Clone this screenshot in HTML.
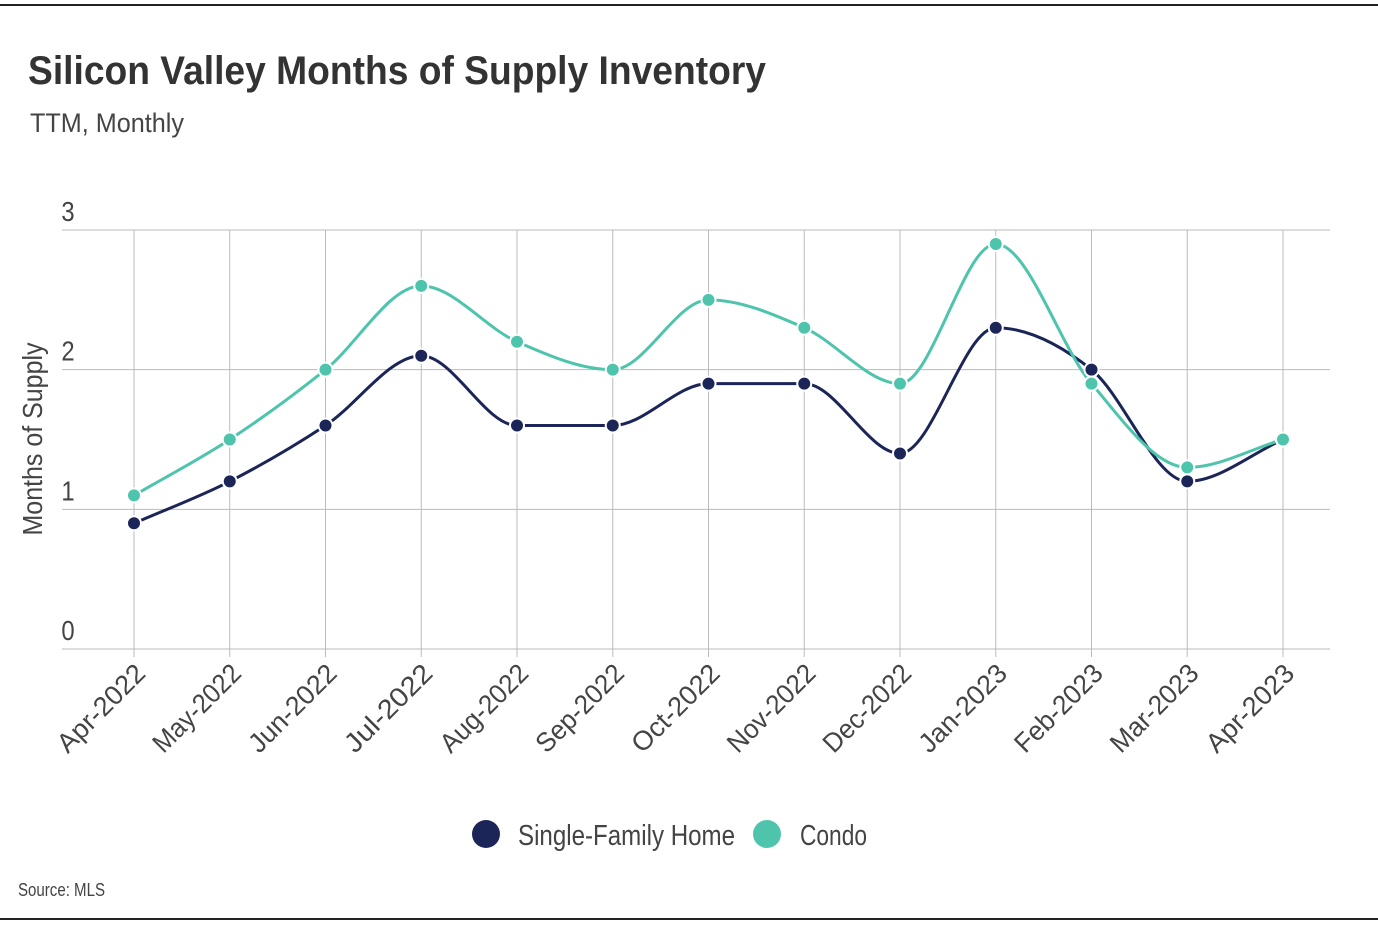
<!DOCTYPE html>
<html><head><meta charset="utf-8">
<style>
html,body{margin:0;padding:0;background:#fff;}
body{width:1378px;height:926px;position:relative;overflow:hidden;font-family:"Liberation Sans",sans-serif;}
svg text{font-family:"Liberation Sans",sans-serif;}
</style></head>
<body>
<svg id="chart" width="1378" height="926">
  <line x1="0" y1="5" x2="1378" y2="5" stroke="#222" stroke-width="2"/>
  <line x1="0" y1="919" x2="1378" y2="919" stroke="#222" stroke-width="2"/>
  <text x="28" y="84" font-size="40" font-weight="bold" fill="#333" textLength="738" lengthAdjust="spacingAndGlyphs">Silicon Valley Months of Supply Inventory</text>
  <text x="30" y="132" font-size="27" fill="#444" textLength="154" lengthAdjust="spacingAndGlyphs">TTM, Monthly</text>
  <text transform="translate(42,439) rotate(-90)" text-anchor="middle" font-size="28" fill="#444" textLength="193" lengthAdjust="spacingAndGlyphs">Months of Supply</text>
  <g id="grid"></g>
  <g id="series"></g>
  <g id="xlabels"></g>
  <circle cx="486" cy="834" r="14" fill="#1b2557"/>
  <text x="518" y="845" font-size="29" fill="#444" textLength="217" lengthAdjust="spacingAndGlyphs">Single-Family Home</text>
  <circle cx="767" cy="834" r="14" fill="#4fc4ad"/>
  <text x="800" y="845" font-size="29" fill="#444" textLength="67" lengthAdjust="spacingAndGlyphs">Condo</text>
  <text x="18" y="896" font-size="18" fill="#444" textLength="87" lengthAdjust="spacingAndGlyphs">Source:  MLS</text>
</svg>
<script>
const categories=["Apr-2022","May-2022","Jun-2022","Jul-2022","Aug-2022","Sep-2022","Oct-2022","Nov-2022","Dec-2022","Jan-2023","Feb-2023","Mar-2023","Apr-2023"];
const sfhValues=[0.9,1.2,1.6,2.1,1.6,1.6,1.9,1.9,1.4,2.3,2.0,1.2,1.5];
const condoValues=[1.1,1.5,2.0,2.6,2.2,2.0,2.5,2.3,1.9,2.9,1.9,1.3,1.5];
const yTicks=[0,1,2,3];
const NS="http://www.w3.org/2000/svg";
const x0=62,x1=1330,yTop=230,yBot=649,yMax=3;
function xS(i){return 134+i*((1283-134)/(categories.length-1));}
function yS(v){return yBot-(v/yMax)*(yBot-yTop);}
function mk(tag,attrs,parent){const e=document.createElementNS(NS,tag);for(const k in attrs)e.setAttribute(k,attrs[k]);parent.appendChild(e);return e;}
const grid=document.getElementById('grid');
yTicks.forEach(t=>{
  const l=mk('line',{x1:x0,x2:x1,y1:yS(t),y2:yS(t),stroke:'#bbb','stroke-width':1},grid);
  
  
  const tx=mk('text',{x:68,y:yS(t)-9,'font-size':28,fill:'#444','text-anchor':'middle',transform:`translate(68,0) scale(0.85,1) translate(-68,0)`},grid);
  tx.textContent=t;
  
  
});
const xl=document.getElementById('xlabels');
categories.forEach((c,i)=>{
  const l=mk('line',{x1:xS(i),x2:xS(i),y1:yTop,y2:yBot+8,stroke:'#bbb','stroke-width':1},grid);
  
  
  const t=mk('text',{transform:`translate(${xS(i)+13},${yBot+26}) rotate(-45)`,'text-anchor':'end','font-size':27,fill:'#444',textLength:112,lengthAdjust:'spacingAndGlyphs'},xl);
  t.textContent=c;
  
  
});
function monotonePath(pts){
  const n=pts.length,d=[],m=[];
  for(let i=0;i<n-1;i++)d.push((pts[i+1][1]-pts[i][1])/(pts[i+1][0]-pts[i][0]));
  m[0]=d[0];m[n-1]=d[n-2];
  for(let i=1;i<n-1;i++){m[i]=(d[i-1]*d[i]<=0)?0:(d[i-1]+d[i])/2;}
  for(let i=0;i<n-1;i++){
    if(d[i]===0){m[i]=0;m[i+1]=0;continue;}
    const a=m[i]/d[i],b=m[i+1]/d[i],s=a*a+b*b;
    if(s>9){const t=3/Math.sqrt(s);m[i]=t*a*d[i];m[i+1]=t*b*d[i];}
  }
  let p=`M${pts[0][0]},${pts[0][1]}`;
  for(let i=0;i<n-1;i++){
    const h=(pts[i+1][0]-pts[i][0])/3;
    p+=` C${pts[i][0]+h},${pts[i][1]+m[i]*h} ${pts[i+1][0]-h},${pts[i+1][1]-m[i+1]*h} ${pts[i+1][0]},${pts[i+1][1]}`;
  }
  return p;
}
const sg=document.getElementById('series');
function drawSeries(vals,color,name){
  const pts=vals.map((v,i)=>[xS(i),yS(v)]);
  const p=mk('path',{d:monotonePath(pts),fill:'none',stroke:color,'stroke-width':3},sg);
  
  
  return pts;
}
const sp=drawSeries(sfhValues,'#1b2557','sfh');
const cp=drawSeries(condoValues,'#4fc4ad','condo');
function drawPts(pts,color,name){
  pts.forEach(q=>{
    const c=mk('circle',{cx:q[0],cy:q[1],r:7,fill:color,stroke:'#fff','stroke-width':2},sg);
    
    
  });
}
drawPts(sp,'#1b2557','sfh');
drawPts(cp,'#4fc4ad','condo');
</script>
</body></html>
